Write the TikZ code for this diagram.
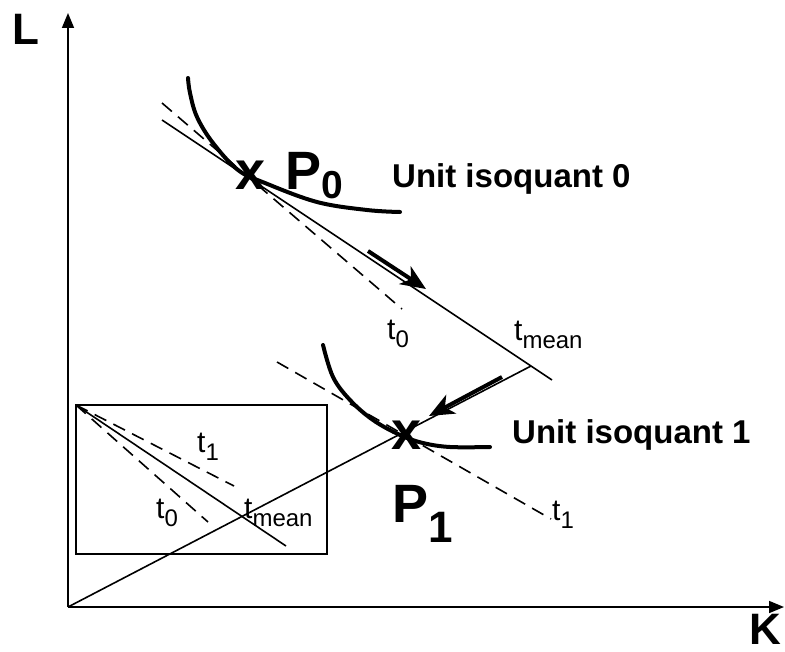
\documentclass[tikz,border=0pt]{standalone}
\usepackage{fontspec}
\setmainfont{Liberation Sans}
\usetikzlibrary{arrows.meta}

% t with a lowered index
\newcommand{\tidx}[1]{t\raisebox{-8bp}{\fontsize{24bp}{24bp}\selectfont #1}}

\begin{document}
\begin{tikzpicture}[
    x=1bp, y=-1bp,
    axis/.style={
        line width=1.6bp,
        -{Triangle[length=15bp, width=12bp]}
    },
    thinline/.style={
        line width=1.6bp
    },
    tangent/.style={
        line width=1.6bp,
        dash pattern=on 13bp off 8bp
    },
    isoquant/.style={
        line width=4bp,
        line cap=round
    },
    shiftarrow/.style={
        line width=4bp,
        -{Stealth[length=25bp, width=21bp, inset=7bp]}
    },
    tname/.style={
        inner sep=0pt,
        anchor=base west,
        font=\fontsize{30bp}{30bp}\selectfont
    },
    bigname/.style={
        inner sep=0pt,
        anchor=base west,
        font=\fontsize{54bp}{54bp}\selectfont\bfseries
    },
    isoname/.style={
        inner sep=0pt,
        anchor=base west,
        font=\fontsize{33bp}{33bp}\selectfont\bfseries
    },
    axisname/.style={
        inner sep=0pt,
        anchor=base west,
        font=\fontsize{44bp}{44bp}\selectfont\bfseries
    }
]
\useasboundingbox (0,0) rectangle (785,652);

% Axes
\coordinate (O) at (68,607);
\coordinate (Ltop) at (68,13);
\coordinate (Kend) at (784,607);
\draw[axis] (O) -- (Ltop);
\draw[axis] (O) -- (Kend);
\node[axisname] (L) at (12,45) {L};
\node[axisname] (K) at (749,644) {K};

% Tangent lines
\coordinate (tmeanA) at (162,120);
\coordinate (tmeanB) at (552,380);
\coordinate (t0A) at (162,103);
\coordinate (t0B) at (402,309);
\coordinate (t1A) at (277,362);
\coordinate (t1B) at (551,519);
\coordinate (rayend) at (531,366);

\draw[thinline] (tmeanA) -- (tmeanB);
\draw[tangent] (t0A) -- (t0B);
\draw[tangent] (t1A) -- (t1B);
\draw[thinline] (O) -- (rayend);

% Isoquants
\draw[isoquant] plot[smooth, tension=0.6] coordinates {(188,78) (190,93) (197,117) (213,143) (238,170) (265,183) (317,202) (367,210) (400,212)};
\draw[isoquant] plot[smooth, tension=0.6] coordinates {(323,345) (333,377) (350,400) (373,420) (400,435) (423,443) (450,447) (490,447)};

% Shift arrows
\coordinate (a0s) at (368,251);
\coordinate (a0e) at (426,289);
\coordinate (a1s) at (502,377);
\coordinate (a1e) at (429,416);
\draw[shiftarrow] (a0s) -- (a0e);
\draw[shiftarrow] (a1s) -- (a1e);

% Points
\node[bigname, anchor=center] (x0) at (251,175) {x};
\node[bigname, anchor=center] (x1) at (407,435) {x};
\node[bigname] (P0) at (285,189) {P\raisebox{-9bp}{\fontsize{39bp}{39bp}\selectfont 0}};
\node[bigname] (P1) at (392,522) {P\raisebox{-20bp}{\fontsize{44bp}{44bp}\selectfont 1}};

% Labels
\node[isoname] (iso0) at (392,187) {Unit isoquant 0};
\node[isoname] (iso1) at (512,443) {Unit isoquant 1};
\node[tname] (t0lab) at (387,339) {\tidx{0}};
\node[tname] (tmeanlab) at (514,340) {\tidx{mean}};
\node[tname] (t1lab) at (552,520) {\tidx{1}};

% Inset
\coordinate (boxNW) at (76,405);
\coordinate (boxSE) at (327,554);
\coordinate (imean) at (286,546);
\coordinate (it1) at (234,486);
\coordinate (it0) at (208,522);
\draw[thinline] (boxNW) rectangle (boxSE);
\draw[thinline] (boxNW) -- (imean);
\draw[tangent] (boxNW) -- (it1);
\draw[tangent] (boxNW) -- (it0);
\node[tname] (it1lab) at (197,452) {\tidx{1}};
\node[tname] (it0lab) at (156,518) {\tidx{0}};
\node[tname] (imeanlab) at (244,518) {\tidx{mean}};

\end{tikzpicture}
\end{document}
